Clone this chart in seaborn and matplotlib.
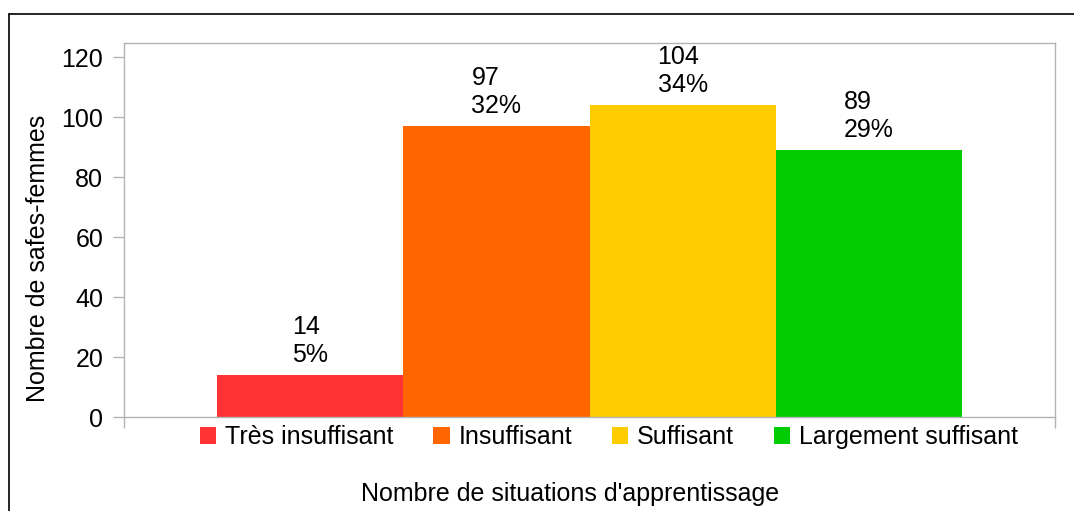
import pandas as pd
import numpy as np
import matplotlib.pyplot as plt
import seaborn as sns
from matplotlib.lines import Line2D

niveaux = ['Très insuffisant', 'Insuffisant', 'Suffisant', 'Largement suffisant']
effectifs = [14, 97, 104, 89]
pourcents = ['5%', '32%', '34%', '29%']
couleurs = ['#ff3333', '#ff6600', '#ffcc00', '#00cc00']

df = pd.DataFrame({'niveau': niveaux, 'n': effectifs, 'pct': pourcents})

sns.set_style('white')
plt.rcParams['font.family'] = ['Liberation Sans', 'DejaVu Sans']
plt.rcParams['text.color'] = 'black'
plt.rcParams['xtick.labelcolor'] = 'black'
plt.rcParams['ytick.labelcolor'] = 'black'

fig = plt.figure(figsize=(10.74, 5.11), dpi=100)
ax = fig.add_axes([124/1074, 1 - 417/511, (1055-124)/1074, (417-43)/511])

sns.barplot(data=df, x='niveau', y='n', hue='niveau', palette=couleurs,
            width=1, dodge=False, legend=False, ax=ax, saturation=1, linewidth=0)

for i, row in df.iterrows():
    ax.annotate(f"{row['n']}\n{row['pct']}", (i, row['n']), xytext=(0, 6),
                textcoords='offset points', ha='center', va='bottom',
                multialignment='left', fontsize=18, color='black')

ax.set_xlim(-1, 4)
ax.set_ylim(0, 124.7)
ax.set_yticks(range(0, 121, 20))
ax.set_xticks([-1, 4])
ax.set_xticklabels(['', ''])
ax.set_xlabel('')
ax.set_ylabel('')
ax.tick_params(axis='both', length=8, width=1, color='#b3b3b3', labelsize=18,
               direction='out', left=True, bottom=True, pad=7)
for s in ax.spines.values():
    s.set_color('#b3b3b3')
    s.set_linewidth(1)

handles = [plt.Rectangle((0, 0), 1, 1, facecolor=c, edgecolor='none') for c in couleurs]
fig.legend(handles, niveaux, loc='center', bbox_to_anchor=(609/1074, 1 - 437/511),
           ncol=4, frameon=False, fontsize=18, handlelength=0.65, handleheight=0.65,
           handletextpad=0.35, columnspacing=1.6, borderpad=0)

fig.text(570/1074, 1 - 494/511, "Nombre de situations d'apprentissage",
         ha='center', va='center', fontsize=18)
fig.text(38/1074, 1 - 258/511, 'Nombre de safes-femmes', rotation=90,
         ha='center', va='center', fontsize=18)

fig.add_artist(Line2D([9/1074, 1], [1 - 14/511, 1 - 14/511], color='black', lw=1.2))
fig.add_artist(Line2D([9/1074, 9/1074], [0, 1 - 14/511], color='black', lw=1.2))

fig.savefig('out.png', dpi=100)
